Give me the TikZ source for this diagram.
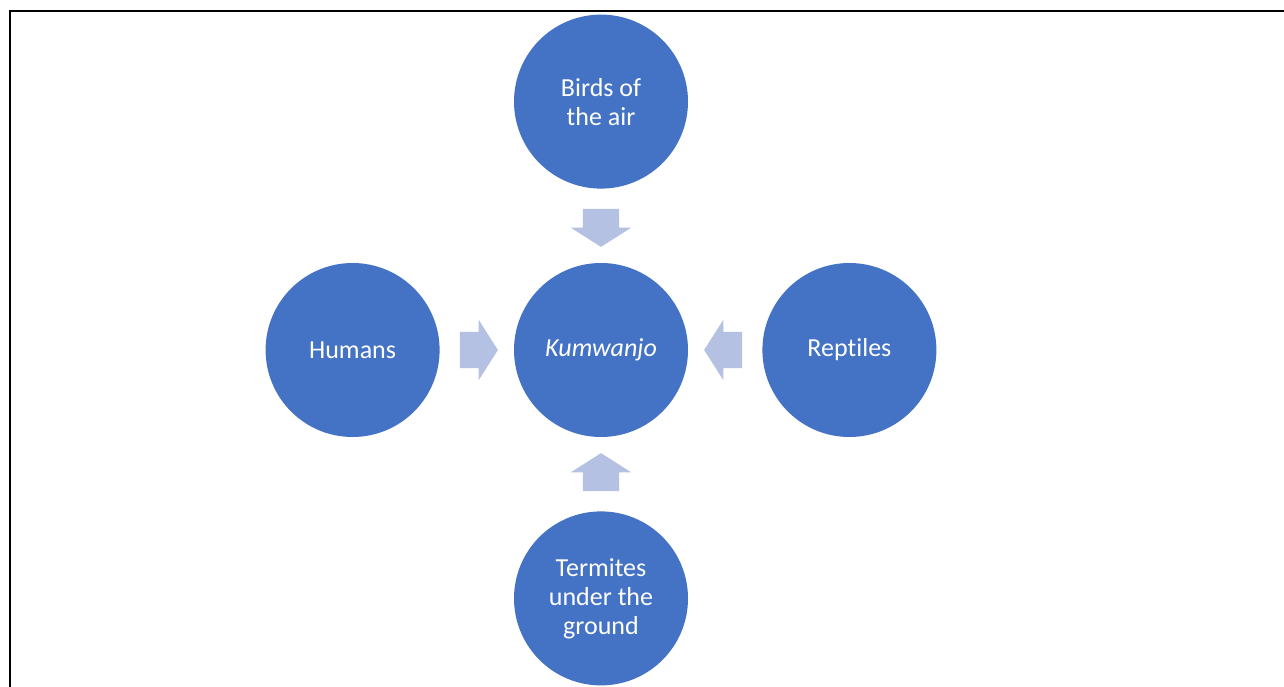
\documentclass[tikz,border=0pt]{standalone}
\usepackage{fontspec}
\setmainfont{Carlito}[Ligatures=CommonOff]
\usetikzlibrary{positioning,shapes.arrows}
\definecolor{circblue}{RGB}{68,114,196}
\definecolor{arrowblue}{RGB}{180,193,226}

\begin{document}
\begin{tikzpicture}[x=1pt,y=-1pt,node distance=74pt,
  main node/.style={circle,fill=circblue,draw=none,text=white,
  minimum size=174pt,inner sep=0pt,align=center,
  font=\fontsize{26}{29}\selectfont},
  flow arrow/.style={single arrow,fill=arrowblue,draw=none,
  minimum height=38pt,inner xsep=0pt,inner ysep=18pt,
  single arrow head extend=12pt,single arrow tip angle=115}]

  \useasboundingbox (0,0) rectangle (1284,687);
  % frame, only its top and left edges show
  \draw[line width=2pt] (10,687) -- (10,11) -- (1284,11);

  \node[main node] (K) at (601,350) {\itshape Kumwanjo};
  \node[main node] (B) [above=of K] {Birds of\\the air};
  \node[main node] (H) [left=of K] {Humans};
  \node[main node] (R) [right=of K] {Reptiles};
  \node[main node] (T) [below=of K] {Termites\\under the\\ground};

  % arrows into the centre
  \path (B) -- node[flow arrow,pos=0.45,rotate=-90] (aB) {} (K);
  \path (H) -- node[flow arrow,pos=0.45] (aH) {} (K);
  \path (R) -- node[flow arrow,pos=0.45,rotate=180] (aR) {} (K);
  \path (T) -- node[flow arrow,pos=0.45,rotate=90] (aT) {} (K);
\end{tikzpicture}
\end{document}
